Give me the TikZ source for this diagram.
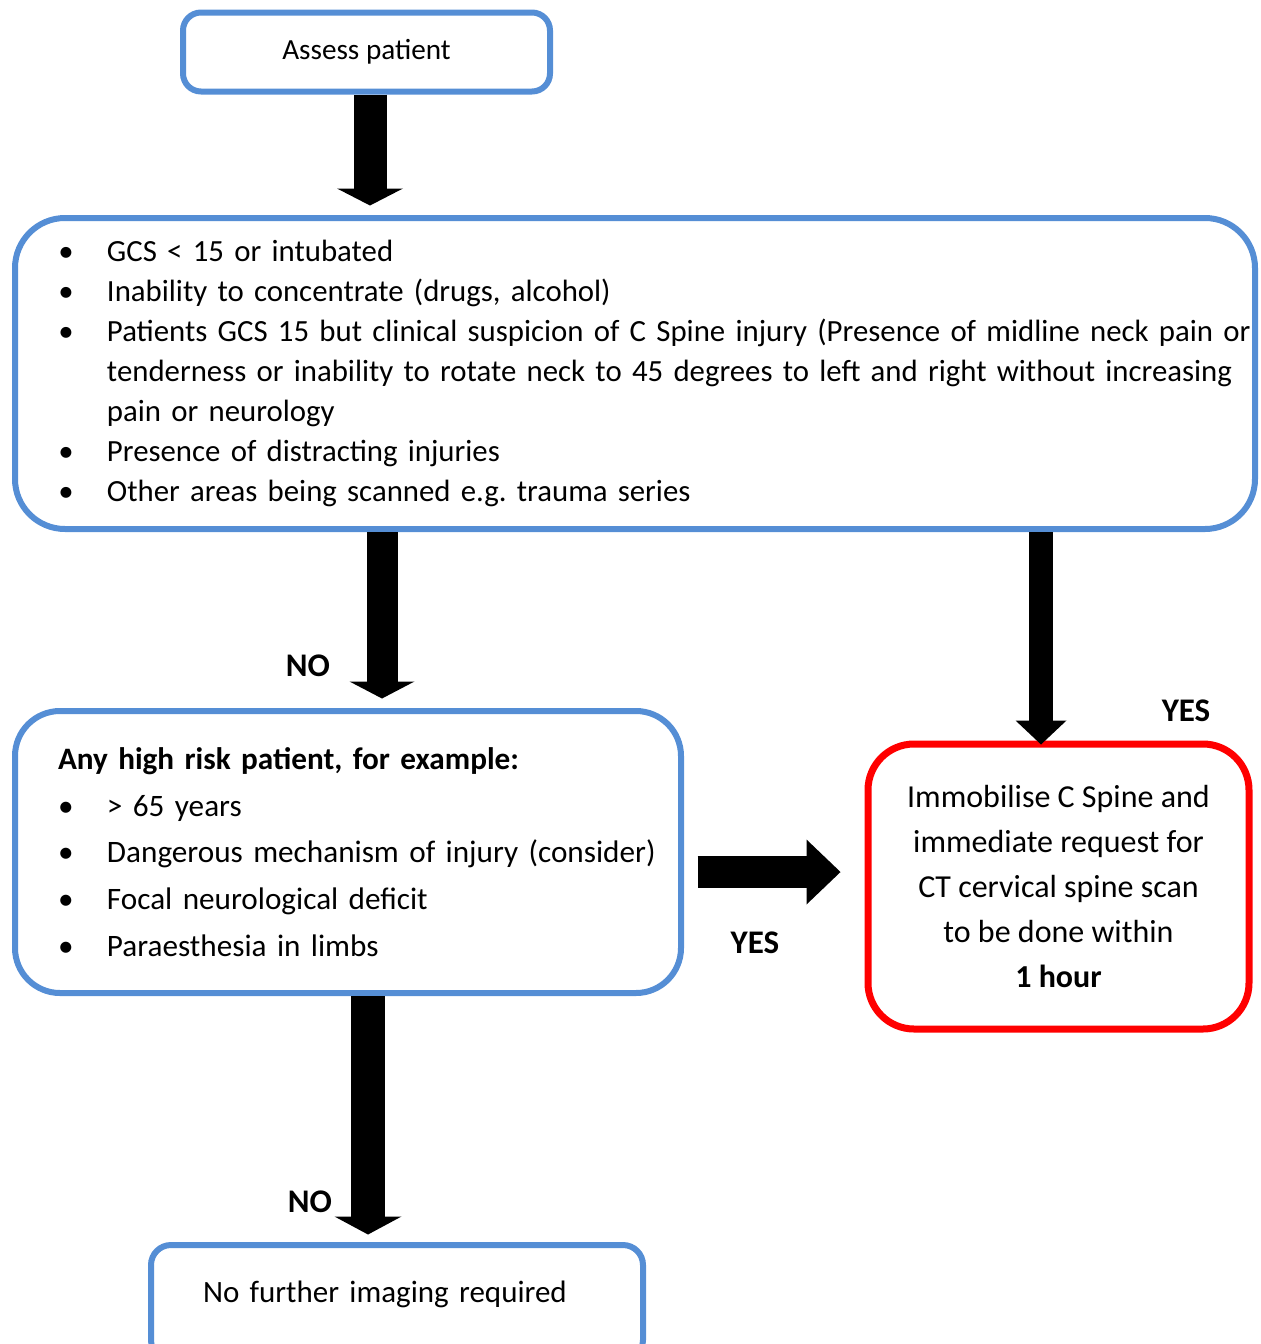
\documentclass[tikz,border=0pt]{standalone}
\usepackage{fontspec}
\setmainfont{Carlito}
\usepackage{xcolor}
\definecolor{boxblue}{HTML}{558ED5}
\definecolor{alertred}{HTML}{FF0000}
\usetikzlibrary{arrows.meta}
\frenchspacing
\newcommand{\critem}[1]{\mbox{\hspace*{20.5pt}\makebox[0pt]{\textbullet}\hspace{20.5pt}#1}}
\newcommand{\critcont}[1]{\mbox{\hspace*{41pt}#1}}
\newcommand{\riskitem}[1]{\mbox{\hspace*{8pt}\makebox[0pt]{\textbullet}\hspace{20.5pt}#1}}

\begin{document}
\begin{tikzpicture}[
  x=0.5pt, y=-0.5pt,
  font=\fontsize{15.4pt}{20pt}\selectfont,
  bluebox/.style={draw=boxblue, line width=3pt, fill=white, inner sep=0pt},
  redbox/.style={draw=alertred, line width=3.5pt, fill=white, inner sep=0pt,
                 rounded corners=23pt, align=center},
  blockarrow/.style n args={3}{draw=black, line width=#1,
                 -{Triangle[length=#2, width=#3, line width=0pt]}},
  lbl/.style={font=\fontsize{16.5pt}{20pt}\selectfont\bfseries}
]
  \useasboundingbox (0,0) rectangle (1261,1344);

  \node[bluebox, rounded corners=9pt, minimum width=183.5pt, minimum height=39.5pt,
        font=\fontsize{14.6pt}{16pt}\selectfont] (assess) at (366.5,52) {Assess patient};

  \node[bluebox, rounded corners=25pt, minimum width=620pt, minimum height=155.5pt,
        text width=610pt, align=left] (crit) at (635,373.5)
        {\critem{GCS < 15 or intubated}\\
         \critem{Inability to concentrate (drugs, alcohol)}\\
         \critem{Patients GCS 15 but clinical suspicion of C Spine injury (Presence of midline neck pain or}\\
         \critcont{tenderness or inability to rotate neck to 45 degrees to left and right without increasing}\\
         \critcont{pain or neurology}\\
         \critem{Presence of distracting injuries}\\
         \critem{Other areas being scanned e.g. trauma series}};

  \node[bluebox, rounded corners=22.5pt, minimum width=333pt, minimum height=141pt,
        text width=298pt, align=left, font=\fontsize{15.6pt}{23.3pt}\selectfont] (risk) at (348,852)
        {\mbox{\hspace*{4pt}\textbf{Any high risk patient, for example:}}\\
         \riskitem{> 65 years}\\
         \riskitem{Dangerous mechanism of injury (consider)}\\
         \riskitem{Focal neurological deficit}\\
         \riskitem{Paraesthesia in limbs}};

  \node[redbox, minimum width=190.5pt, minimum height=142.5pt,
        font=\fontsize{16pt}{22.5pt}\selectfont] (ctscan) at (1058.5,886.5)
        {Immobilise C Spine and\\immediate request for\\CT cervical spine scan\\to be done within\\\textbf{1 hour}};

  \node[bluebox, rounded corners=10pt, anchor=north, minimum width=246pt, inner ysep=16.5pt,
        text height=12pt, text depth=12.5pt, text width=235pt, align=left,
        font=\fontsize{15.5pt}{20pt}\selectfont] (noimg) at (397,1242)
        {\hspace*{20.5pt}No further imaging required};

  \coordinate (colA) at (370,0);
  \coordinate (colB) at (382,0);
  \coordinate (colC) at (1041,0);
  \coordinate (colD) at (368,0);
  \coordinate (yesrow) at (0,872);

  \draw[blockarrow={16.5pt}{8.5pt}{33pt}, shorten >=4.75pt] (colA |- assess.south) -- (colA |- crit.north);
  \draw[blockarrow={15.5pt}{8.5pt}{32.5pt}, shorten >=4.75pt] (colB |- crit.south) -- (colB |- risk.north);
  \draw[blockarrow={12pt}{12pt}{25.5pt}, shorten >=-2pt] (colC |- crit.south) -- (colC |- ctscan.north);
  \draw[blockarrow={16pt}{17pt}{32.5pt}, shorten <=6.75pt, shorten >=12pt] (risk.east |- yesrow) -- (ctscan.west |- yesrow);
  \draw[blockarrow={17pt}{9pt}{33.5pt}, shorten >=3.75pt] (colD |- risk.south) -- (colD |- noimg.north);

  \node[lbl] (no1) at (308,666) {NO};
  \node[lbl] (yes1) at (1186,711) {YES};
  \node[lbl] (yes2) at (755,943) {YES};
  \node[lbl] (no2) at (310,1202) {NO};
\end{tikzpicture}
\end{document}
